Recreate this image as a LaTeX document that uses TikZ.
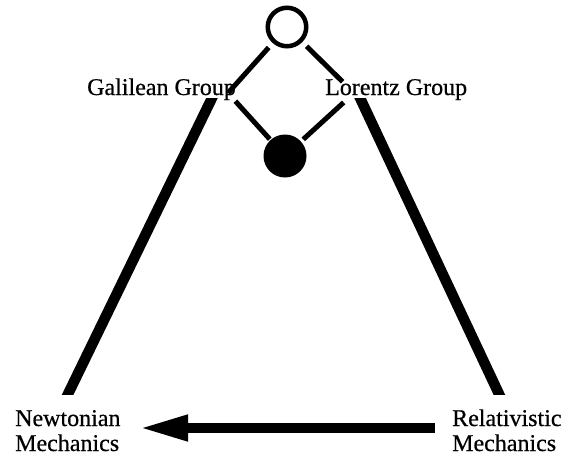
\documentclass[tikz,border=0pt]{standalone}
\usepackage{fontspec}
\setmainfont[FakeBold=0.6]{Liberation Serif}
\usetikzlibrary{arrows.meta,calc}
\begin{document}
\begin{tikzpicture}[x=1pt,y=-1pt,
  lbl/.style={anchor=base west,inner sep=0pt,font=\fontsize{24}{27}\selectfont},
  thinline/.style={line width=5pt},
  thickline/.style={line width=10.5pt},
  ]
\useasboundingbox (0,0) rectangle (576,455);
% group elements
\node[circle,draw,line width=4.5pt,minimum size=38.5pt,inner sep=0pt] (top) at (287,27) {};
\node[circle,fill,minimum size=43pt,inner sep=0pt] (bot) at (285,156) {};
\coordinate (gc) at (228,93);
\coordinate (lc) at (354,93);
\draw[thinline,shorten <=6pt] (top) -- (gc);
\draw[thinline,shorten <=11pt,shorten >=1pt] (gc) -- (bot);
\draw[thinline,shorten <=6pt,shorten >=16pt] (top) -- (lc);
\draw[thinline,shorten <=14pt,shorten >=3pt] (lc) -- (bot);
% labels
\node[lbl] (gal) at (87,95) {Galilean Group};
\node[lbl] (lor) at (325,95) {Lorentz Group};
\node[lbl] (newt1) at (15,426) {Newtonian};
\node[lbl] (newt2) at (15,451) {Mechanics};
\node[lbl] (rel1) at (452,426) {Relativistic};
\node[lbl] (rel2) at (452,451) {Mechanics};
% thick sides
\coordinate (gt) at (211,100);
\coordinate (nb) at (68,394);
\coordinate (lt) at (361,100);
\coordinate (rb) at (499,394);
\begin{scope}
\clip (0,98) rectangle (576,394);
\draw[thickline] ($(gt)!-0.05!(nb)$) -- ($(nb)!-0.05!(gt)$);
\draw[thickline] ($(lt)!-0.05!(rb)$) -- ($(rb)!-0.05!(lt)$);
\end{scope}
% arrow
\coordinate (ra) at (435,428);
\coordinate (na) at (139,428);
\draw[line width=10pt,-{Triangle[length=49pt,width=24pt]}] (ra) -- (na);
\end{tikzpicture}
\end{document}
